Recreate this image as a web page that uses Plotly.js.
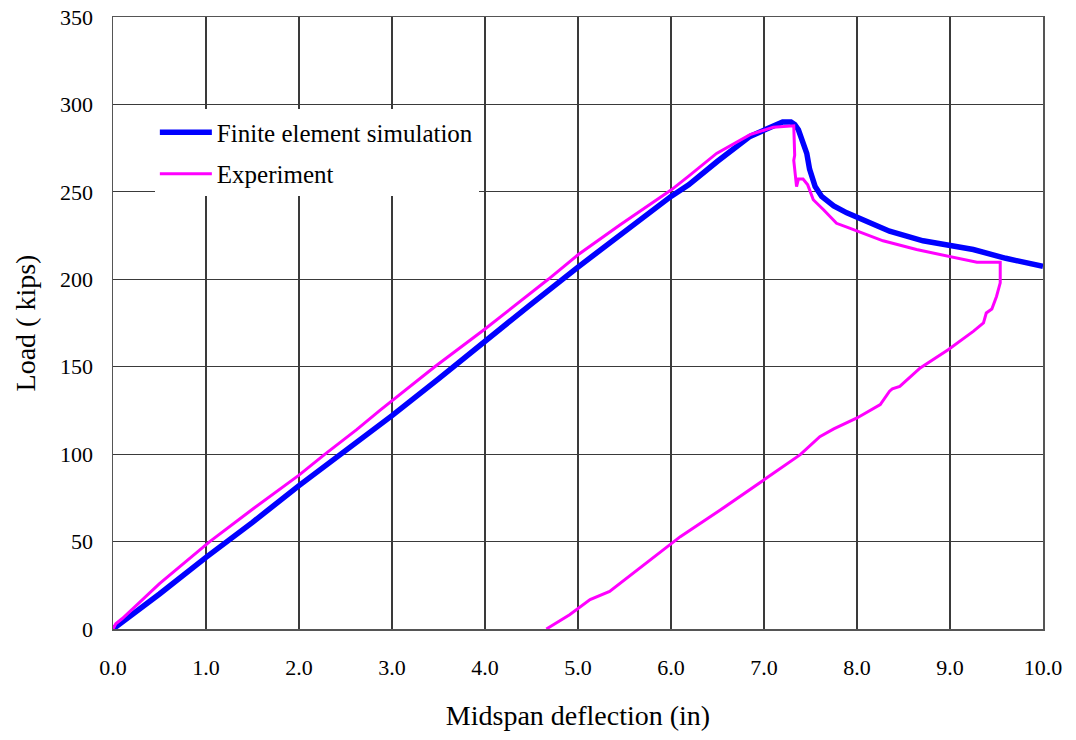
<!DOCTYPE html>
<html>
<head>
<meta charset="utf-8">
<script src="https://cdn.plot.ly/plotly-3.0.1.min.js"></script>
<style>
  html, body { margin: 0; padding: 0; background: #ffffff; }
  #chart { width: 1076px; height: 740px; }
</style>
</head>
<body>
<div id="chart"></div>
<script>
// Finite element load-deflection response
const feDeflection = [0, 0.5, 1.0, 1.5, 2.0, 2.5, 3.0, 3.5, 4.0, 4.5, 5.0, 5.5, 6.0, 6.19, 6.5, 6.85, 7.0, 7.14, 7.2, 7.29, 7.33, 7.37, 7.42, 7.46, 7.49, 7.55, 7.62, 7.75, 7.89, 8.1, 8.35, 8.71, 9.0, 9.25, 9.6, 10.0];
const feLoad = [0, 20, 41, 61, 82, 102, 122, 143, 165, 186, 207, 227.4, 247.4, 254, 267.5, 281.7, 285.5, 288.5, 290, 290, 288.5, 285.5, 277, 272, 263, 253, 247.4, 242, 238, 233, 227.5, 222, 219, 217, 212, 207.4];

// Measured load-deflection response, loading and unloading
const expDeflection = [0, 0.03, 0.1, 0.5, 1.04, 1.5, 2.0, 2.28, 2.62, 2.87, 3.46, 4.0, 4.68, 5.0, 5.45, 6.0, 6.19, 6.49, 6.85, 7.1, 7.32, 7.33, 7.32, 7.35, 7.37, 7.42, 7.47, 7.53, 7.64, 7.78, 7.92, 8.28, 8.64, 9.0, 9.29, 9.54, 9.54, 9.50, 9.45, 9.39, 9.36, 9.25, 9.11, 8.98, 8.68, 8.46, 8.38, 8.35, 8.25, 8.0, 7.75, 7.6, 7.39, 6.96, 6.53, 6.1, 5.92, 5.34, 5.13, 4.91, 4.66];
const expLoad = [0, 3, 6, 26, 50, 68.5, 88, 100, 114, 125, 150, 171.6, 200, 214, 231, 251, 259, 272, 282.7, 287, 287.8, 271, 268, 253, 257.3, 257.3, 254, 245.5, 239.8, 232, 229.3, 222, 217, 213, 209.7, 209.7, 198, 190.2, 183, 180.7, 175, 170.2, 164.5, 159.7, 149.3, 138.7, 137.3, 136, 128.3, 120.7, 114.4, 110, 99.7, 83.6, 68, 52.8, 45.3, 21.5, 16.8, 8.2, 0];

const xTickVals = [0, 1, 2, 3, 4, 5, 6, 7, 8, 9, 10];
const xTickText = ["0.0", "1.0", "2.0", "3.0", "4.0", "5.0", "6.0", "7.0", "8.0", "9.0", "10.0"];
const yTickVals = [0, 50, 100, 150, 200, 250, 300, 350];

const serif = "Liberation Serif";

const traces = [
  {
    x: feDeflection, y: feLoad, type: "scatter", mode: "lines",
    name: "Finite element simulation", legendgroup: "fe",
    line: { color: "#0000ff", width: 5.5 }
  },
  {
    x: expDeflection, y: expLoad, type: "scatter", mode: "lines",
    name: "Experiment", legendgroup: "exp",
    line: { color: "#ff00ff", width: 3 }
  }
];

const layout = {
  width: 1076, height: 740,
  margin: { l: 113, r: 33, t: 17, b: 111 },
  font: { family: serif, size: 22, color: "#000000" },
  paper_bgcolor: "#ffffff", plot_bgcolor: "#ffffff",
  showlegend: true,
  legend: {
    x: 0.045, y: 0.849, xanchor: "left", yanchor: "top",
    bgcolor: "#ffffff", borderwidth: 0,
    font: { family: serif, size: 25, color: "#000000" },
    traceorder: "grouped", tracegroupgap: 6, itemwidth: 52
  },
  xaxis: {
    range: [0, 10], tickvals: xTickVals, ticktext: xTickText,
    showgrid: true, gridcolor: "#3a3a3a", gridwidth: 1.2,
    showline: true, linecolor: "#555555", linewidth: 1.5, mirror: true,
    zeroline: false, ticks: "", ticklabelstandoff: 18,
    tickfont: { family: serif, size: 22, color: "#000000" },
    title: { text: "Midspan deflection (in)", font: { family: serif, size: 28, color: "#000000" }, standoff: 26 }
  },
  yaxis: {
    range: [0, 350], tickvals: yTickVals,
    showgrid: true, gridcolor: "#3a3a3a", gridwidth: 1.2,
    showline: true, linecolor: "#555555", linewidth: 1.5, mirror: true,
    zeroline: false, ticks: "", ticklabelstandoff: 14,
    tickfont: { family: serif, size: 22, color: "#000000" },
    title: { text: "Load ( kips)", font: { family: serif, size: 28, color: "#000000" }, standoff: 16 }
  }
};

Plotly.newPlot("chart", traces, layout, { staticPlot: true, displayModeBar: false });
</script>
</body>
</html>
